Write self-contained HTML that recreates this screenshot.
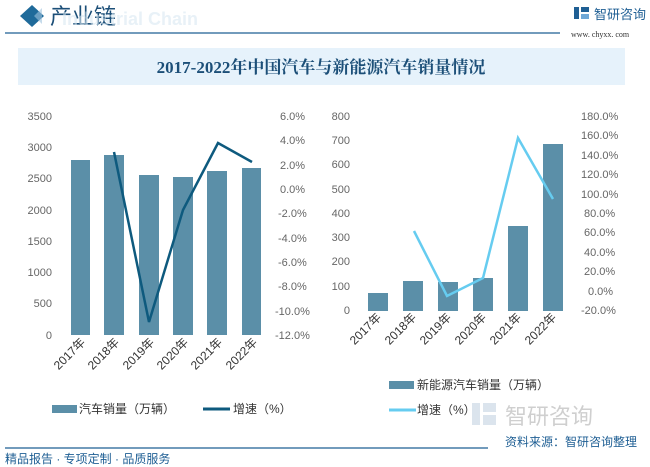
<!DOCTYPE html><html><head><meta charset="utf-8"><style>
body{margin:0;width:650px;height:467px;background:#fff;overflow:hidden;font-family:"Liberation Sans","Noto Sans CJK SC",sans-serif;position:relative}
.a{position:absolute}
</style></head><body>
<svg class="a" style="left:0;top:0" width="650" height="467" font-family="Liberation Sans, Noto Sans CJK SC, sans-serif">
<!-- header -->
<polygon points="20,16 32,5 44,16 32,27" fill="#1f6a9a"/>
<polygon points="34,16 42,8 42,24" fill="#9ec3dd" opacity="0.6"/>
<text x="50" y="24" font-size="22" fill="#1c4f78">产业链</text>
<text x="62" y="25" font-size="18" font-weight="bold" fill="#d9e8f3" opacity="0.6">Industrial Chain</text>
<rect x="574" y="7" width="5" height="12" fill="#1f5f94"/><rect x="581" y="7" width="8" height="5" fill="#1f5f94"/><rect x="581" y="14" width="8" height="5" fill="#6fa8d6"/>
<text x="594" y="19" font-size="13" fill="#1f5f94">智研咨询</text>
<line x1="5" y1="33" x2="560" y2="33" stroke="#1f5f94" stroke-width="1.2"/>
<text x="571" y="37" font-size="8" fill="#333" font-family="Liberation Serif, serif">www. chyxx. com</text>
<rect x="18" y="48" width="607" height="37" fill="#e6f2fb"/>
<text x="321" y="73" font-size="17" font-weight="bold" fill="#1c4f78" text-anchor="middle" font-family="Liberation Serif, Noto Serif CJK SC, serif">2017-2022年中国汽车与新能源汽车销量情况</text>
<!-- left chart -->
<g font-size="11" fill="#666">
<g text-anchor="end">
<text x="52" y="120">3500</text><text x="52" y="151">3000</text><text x="52" y="182">2500</text><text x="52" y="214">2000</text><text x="52" y="245">1500</text><text x="52" y="276">1000</text><text x="52" y="307">500</text><text x="52" y="339">0</text>
</g>
<g>
<text x="280" y="120">6.0%</text><text x="280" y="144">4.0%</text><text x="280" y="169">2.0%</text><text x="280" y="193">0.0%</text><text x="278" y="217">-2.0%</text><text x="278" y="242">-4.0%</text><text x="278" y="266">-6.0%</text><text x="278" y="290">-8.0%</text><text x="275" y="315">-10.0%</text><text x="275" y="339">-12.0%</text>
</g>
</g>
<g fill="#5b8fa8">
<rect x="71" y="160" width="19" height="175"/><rect x="104" y="155" width="20" height="180"/><rect x="139" y="175" width="20" height="160"/><rect x="173" y="177" width="20" height="158"/><rect x="207" y="171" width="20" height="164"/><rect x="242" y="168" width="19" height="167"/>
</g>
<polyline points="114,152 149,322 183,210 218,143 252,162" fill="none" stroke="#0e5a7e" stroke-width="2.5"/>
<g font-size="12" fill="#333">
<text transform="translate(86,343) rotate(-45)" text-anchor="end">2017年</text>
<text transform="translate(120,343) rotate(-45)" text-anchor="end">2018年</text>
<text transform="translate(155,343) rotate(-45)" text-anchor="end">2019年</text>
<text transform="translate(189,343) rotate(-45)" text-anchor="end">2020年</text>
<text transform="translate(223,343) rotate(-45)" text-anchor="end">2021年</text>
<text transform="translate(258,343) rotate(-45)" text-anchor="end">2022年</text>
</g>
<rect x="52" y="405" width="25" height="8" fill="#5b8fa8"/>
<text x="79" y="413" font-size="12" fill="#333">汽车销量（万辆）</text>
<line x1="203" y1="409" x2="230" y2="409" stroke="#0e5a7e" stroke-width="3"/>
<text x="233" y="413" font-size="12" fill="#333">增速（%）</text>
<!-- right chart -->
<g font-size="11" fill="#666">
<g text-anchor="end">
<text x="350" y="120">800</text><text x="350" y="144">700</text><text x="350" y="168">600</text><text x="350" y="193">500</text><text x="350" y="217">400</text><text x="350" y="241">300</text><text x="350" y="265">200</text><text x="350" y="290">100</text><text x="350" y="314">0</text>
</g>
<g>
<text x="581" y="120">180.0%</text><text x="581" y="139">160.0%</text><text x="581" y="159">140.0%</text><text x="581" y="178">120.0%</text><text x="581" y="198">100.0%</text><text x="584" y="217">80.0%</text><text x="584" y="236">60.0%</text><text x="584" y="256">40.0%</text><text x="584" y="275">20.0%</text><text x="588" y="295">0.0%</text><text x="581" y="314">-20.0%</text>
</g>
</g>
<g fill="#5b8fa8">
<rect x="368" y="293" width="20" height="18"/><rect x="403" y="281" width="20" height="30"/><rect x="438" y="282" width="20" height="29"/><rect x="473" y="278" width="20" height="33"/><rect x="508" y="226" width="20" height="85"/><rect x="543" y="144" width="20" height="167"/>
</g>
<polyline points="414,231 447,296 483,278 518,138 553,199" fill="none" stroke="#66ccf0" stroke-width="2.5"/>
<g font-size="12" fill="#333">
<text transform="translate(382,318) rotate(-45)" text-anchor="end">2017年</text>
<text transform="translate(417,318) rotate(-45)" text-anchor="end">2018年</text>
<text transform="translate(452,318) rotate(-45)" text-anchor="end">2019年</text>
<text transform="translate(487,318) rotate(-45)" text-anchor="end">2020年</text>
<text transform="translate(522,318) rotate(-45)" text-anchor="end">2021年</text>
<text transform="translate(557,318) rotate(-45)" text-anchor="end">2022年</text>
</g>
<rect x="389" y="381" width="25" height="8" fill="#5b8fa8"/>
<text x="417" y="389" font-size="12" fill="#333">新能源汽车销量（万辆）</text>
<line x1="389" y1="410" x2="416" y2="410" stroke="#66ccf0" stroke-width="3"/>
<text x="417" y="414" font-size="12" fill="#333">增速（%）</text>
<!-- footer watermark logo -->
<g opacity="0.35">
<rect x="472" y="403" width="8" height="22" fill="#9bb4cc"/><rect x="483" y="403" width="13" height="9" fill="#9bb4cc"/><rect x="483" y="415" width="13" height="10" fill="#9bb4cc"/>
<text x="505" y="424" font-size="22" fill="#777">智研咨询</text>
</g>
<line x1="5" y1="448" x2="488" y2="448" stroke="#1f5f94" stroke-width="1.2"/>
<text x="505" y="446" font-size="12" fill="#1f5f94">资料来源：智研咨询整理</text>
<text x="5" y="463" font-size="12" fill="#1f5f94">精品报告 · 专项定制 · 品质服务</text>
</svg>
</body></html>
